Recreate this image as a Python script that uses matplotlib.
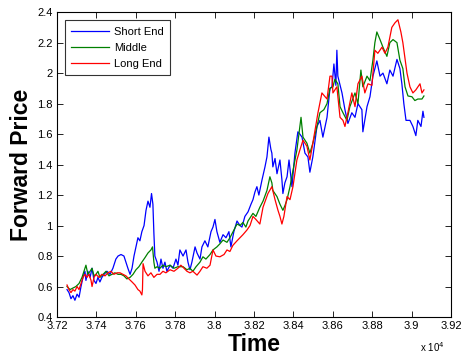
import matplotlib
matplotlib.use("Agg")
import matplotlib.pyplot as plt
from matplotlib.ticker import FuncFormatter, MultipleLocator

plt.rcParams['font.family'] = ['Liberation Sans', 'DejaVu Sans']

short_t = [37251, 37261, 37271, 37281, 37291, 37302, 37312, 37322, 37332, 37342, 37347, 37357, 37368, 37378, 37388, 37398, 37408, 37418, 37428, 37439, 37454, 37469, 37484, 37499, 37510, 37525, 37540, 37550, 37560, 37571, 37581, 37591, 37601, 37611, 37621, 37631, 37642, 37652, 37662, 37672, 37680, 37687, 37692, 37697, 37708, 37718, 37728, 37738, 37748, 37758, 37774, 37789, 37804, 37814, 37824, 37840, 37855, 37865, 37875, 37885, 37901, 37911, 37926, 37936, 37951, 37966, 37982, 37992, 38002, 38012, 38027, 38043, 38058, 38073, 38083, 38098, 38114, 38129, 38139, 38154, 38170, 38185, 38195, 38205, 38215, 38225, 38241, 38256, 38266, 38276, 38286, 38291, 38296, 38307, 38317, 38332, 38342, 38347, 38357, 38368, 38378, 38393, 38408, 38423, 38433, 38444, 38459, 38474, 38484, 38499, 38520, 38535, 38550, 38571, 38586, 38596, 38606, 38616, 38621, 38626, 38647, 38662, 38677, 38697, 38713, 38728, 38748, 38753, 38774, 38789, 38804, 38824, 38840, 38855, 38875, 38890, 38906, 38926, 38941, 38951, 38961, 38972, 38992, 39007, 39022, 39032, 39048, 39058, 39063]
short_v = [0.58, 0.56, 0.52, 0.54, 0.51, 0.55, 0.53, 0.60, 0.66, 0.70, 0.64, 0.70, 0.66, 0.72, 0.64, 0.62, 0.66, 0.63, 0.66, 0.68, 0.70, 0.68, 0.72, 0.78, 0.80, 0.81, 0.80, 0.76, 0.72, 0.68, 0.72, 0.80, 0.86, 0.92, 0.90, 0.96, 1.00, 1.10, 1.16, 1.12, 1.21, 1.14, 0.95, 0.80, 0.76, 0.70, 0.78, 0.72, 0.76, 0.70, 0.74, 0.72, 0.78, 0.74, 0.84, 0.80, 0.84, 0.76, 0.71, 0.76, 0.86, 0.82, 0.78, 0.86, 0.90, 0.86, 0.96, 0.99, 1.04, 0.96, 0.89, 0.94, 0.92, 0.96, 0.86, 0.96, 1.03, 1.00, 0.99, 1.06, 1.09, 1.14, 1.17, 1.22, 1.255, 1.20, 1.30, 1.385, 1.45, 1.58, 1.50, 1.475, 1.385, 1.44, 1.34, 1.43, 1.30, 1.21, 1.28, 1.32, 1.43, 1.255, 1.475, 1.615, 1.60, 1.58, 1.475, 1.45, 1.35, 1.45, 1.65, 1.69, 1.58, 1.71, 1.90, 1.91, 2.06, 1.92, 2.15, 1.98, 1.87, 1.76, 1.67, 1.74, 1.71, 1.80, 1.76, 1.615, 1.78, 1.845, 1.98, 2.08, 1.98, 2.00, 1.93, 2.02, 1.98, 2.09, 2.03, 1.93, 1.80, 1.69, 1.69, 1.65, 1.59, 1.69, 1.65, 1.75, 1.71]

middle_t = [37251, 37266, 37281, 37296, 37312, 37327, 37337, 37347, 37357, 37368, 37378, 37388, 37398, 37408, 37418, 37434, 37449, 37464, 37479, 37494, 37510, 37525, 37540, 37555, 37571, 37586, 37601, 37616, 37631, 37647, 37662, 37677, 37685, 37692, 37697, 37708, 37723, 37738, 37753, 37774, 37794, 37814, 37840, 37860, 37875, 37890, 37906, 37926, 37941, 37956, 37977, 37992, 38012, 38027, 38043, 38063, 38078, 38098, 38114, 38129, 38144, 38159, 38170, 38185, 38195, 38210, 38230, 38246, 38266, 38281, 38291, 38296, 38317, 38332, 38347, 38357, 38368, 38383, 38398, 38418, 38439, 38449, 38469, 38484, 38499, 38520, 38535, 38555, 38571, 38586, 38601, 38611, 38626, 38637, 38652, 38672, 38687, 38713, 38728, 38743, 38753, 38774, 38789, 38804, 38814, 38824, 38840, 38855, 38875, 38890, 38906, 38926, 38941, 38956, 38967, 38982, 39002, 39017, 39032, 39053, 39063]
middle_v = [0.60, 0.58, 0.59, 0.60, 0.62, 0.66, 0.70, 0.74, 0.68, 0.70, 0.72, 0.67, 0.68, 0.70, 0.66, 0.68, 0.70, 0.67, 0.68, 0.69, 0.68, 0.68, 0.67, 0.65, 0.66, 0.68, 0.71, 0.73, 0.76, 0.79, 0.82, 0.84, 0.86, 0.76, 0.72, 0.73, 0.72, 0.74, 0.73, 0.74, 0.72, 0.73, 0.73, 0.71, 0.72, 0.70, 0.73, 0.76, 0.795, 0.78, 0.81, 0.84, 0.86, 0.88, 0.905, 0.89, 0.92, 0.97, 1.01, 1.00, 1.02, 0.99, 1.03, 1.06, 1.08, 1.06, 1.12, 1.16, 1.23, 1.32, 1.28, 1.23, 1.19, 1.14, 1.10, 1.13, 1.17, 1.255, 1.36, 1.495, 1.71, 1.58, 1.54, 1.475, 1.54, 1.65, 1.74, 1.76, 1.80, 1.90, 1.91, 1.96, 1.93, 1.78, 1.74, 1.69, 1.78, 1.87, 1.80, 2.02, 1.91, 1.98, 1.95, 2.085, 2.20, 2.27, 2.22, 2.17, 2.11, 2.20, 2.22, 2.20, 2.085, 2.03, 1.91, 1.85, 1.845, 1.82, 1.83, 1.83, 1.85]

long_t = [37251, 37261, 37271, 37281, 37291, 37302, 37312, 37322, 37332, 37342, 37352, 37362, 37373, 37378, 37388, 37398, 37413, 37428, 37444, 37459, 37474, 37489, 37505, 37520, 37535, 37550, 37565, 37581, 37596, 37611, 37621, 37631, 37634, 37637, 37647, 37662, 37677, 37692, 37708, 37723, 37738, 37753, 37774, 37794, 37814, 37829, 37845, 37860, 37875, 37890, 37911, 37926, 37941, 37961, 37977, 37992, 38007, 38027, 38048, 38063, 38078, 38093, 38114, 38129, 38144, 38164, 38180, 38195, 38210, 38230, 38246, 38271, 38291, 38307, 38322, 38332, 38342, 38352, 38368, 38383, 38398, 38418, 38433, 38449, 38469, 38484, 38499, 38525, 38545, 38571, 38586, 38596, 38601, 38621, 38637, 38652, 38662, 38677, 38697, 38713, 38728, 38748, 38763, 38779, 38799, 38814, 38829, 38850, 38865, 38880, 38900, 38916, 38931, 38946, 38956, 38977, 38992, 39007, 39022, 39043, 39053, 39063]
long_v = [0.61, 0.58, 0.56, 0.58, 0.57, 0.60, 0.58, 0.62, 0.66, 0.68, 0.66, 0.68, 0.64, 0.60, 0.66, 0.68, 0.66, 0.68, 0.67, 0.69, 0.70, 0.68, 0.69, 0.69, 0.68, 0.67, 0.65, 0.63, 0.61, 0.58, 0.57, 0.545, 0.58, 0.75, 0.70, 0.67, 0.69, 0.66, 0.68, 0.68, 0.70, 0.69, 0.71, 0.70, 0.72, 0.74, 0.72, 0.70, 0.69, 0.70, 0.675, 0.70, 0.73, 0.72, 0.74, 0.84, 0.80, 0.795, 0.81, 0.84, 0.83, 0.87, 0.90, 0.92, 0.94, 0.97, 1.00, 1.06, 1.04, 1.01, 1.12, 1.21, 1.255, 1.17, 1.10, 1.06, 1.01, 1.06, 1.19, 1.17, 1.255, 1.43, 1.495, 1.56, 1.52, 1.43, 1.54, 1.74, 1.87, 1.83, 1.98, 1.98, 1.87, 1.91, 1.71, 1.69, 1.65, 1.74, 1.87, 1.78, 1.93, 1.98, 1.87, 1.93, 1.92, 2.15, 2.13, 2.17, 2.13, 2.17, 2.30, 2.33, 2.35, 2.27, 2.20, 2.00, 1.91, 1.87, 1.89, 1.93, 1.87, 1.89]

series_names = ['Short End', 'Middle', 'Long End']

fig = plt.figure(figsize=(4.64, 3.57), dpi=100)
ax = fig.add_axes([0.1228, 0.112, 0.849, 0.854])

ax.plot(short_t, short_v, color=(0, 0, 1), lw=0.9, label=series_names[0])
ax.plot(middle_t, middle_v, color=(0, 0.5, 0), lw=0.9, label=series_names[1])
ax.plot(long_t, long_v, color=(1, 0, 0), lw=0.9, label=series_names[2])

ax.set_xlim(37200, 39200)
ax.set_ylim(0.4, 2.4)
ax.xaxis.set_major_locator(MultipleLocator(200))
ax.yaxis.set_major_locator(MultipleLocator(0.2))
ax.xaxis.set_major_formatter(FuncFormatter(lambda v, p: '%g' % round(v / 1e4, 4)))
ax.yaxis.set_major_formatter(FuncFormatter(lambda v, p: '%g' % round(v, 4)))
ax.tick_params(direction='in', length=4, width=0.6, top=True, right=True,
               labelsize=8, pad=3)
for s in ax.spines.values():
    s.set_linewidth(0.8)

ax.set_xlabel('Time', fontsize=16.5, fontweight='bold', labelpad=1)
ax.set_ylabel('Forward Price', fontsize=16.5, fontweight='bold', labelpad=3)
fig.text(0.905, 0.008, r'x 10$^{4}$', fontsize=7, ha='left', va='bottom')

leg = ax.legend(loc='upper left', fontsize=8, frameon=True, fancybox=False,
                edgecolor='black', handlelength=3.4, handletextpad=0.45,
                borderpad=0.55, labelspacing=0.55, borderaxespad=0.75)
leg.get_frame().set_linewidth(0.8)

fig.savefig('out.png', dpi=100)
